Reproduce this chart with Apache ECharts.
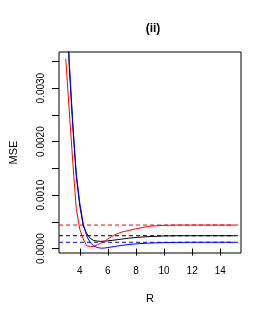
<!DOCTYPE html>
<html>
<head>
<meta charset="utf-8">
<script src="https://cdn.jsdelivr.net/npm/echarts@6/dist/echarts.min.js"></script>
<style>
html,body{margin:0;padding:0;background:#fff;}
#chart{width:269px;height:319px;}
</style>
</head>
<body>
<div id="chart"></div>
<script>
// R values (x)
const rValues = [3, 3.25, 3.5, 3.75, 4, 4.25, 4.5, 4.75, 5, 5.25, 5.5, 5.75, 6, 6.5, 7, 7.5, 8, 9, 10, 11, 12, 13, 14, 15];
// MSE curves
const redMSE   = [0.00355, 0.00257, 0.00162, 0.00075, 0.00036, 0.00018, 0.00005, 0.00004, 0.00004, 0.00007, 0.00010, 0.00013, 0.00018, 0.00026, 0.00031, 0.00034, 0.00037, 0.00042, 0.000435, 0.00044, 0.00044, 0.00044, 0.00044, 0.00044];
const blackMSE = [0.0050, 0.0034, 0.0023, 0.00135, 0.00080, 0.00042, 0.00028, 0.00019, 0.00015, 0.00014, 0.000135, 0.00014, 0.000145, 0.00016, 0.000178, 0.000195, 0.000208, 0.000226, 0.000236, 0.00024, 0.00024, 0.00024, 0.00024, 0.00024];
const blueMSE  = [0.0052, 0.0035, 0.00235, 0.0014, 0.00085, 0.00046, 0.00023, 0.00011, 0.00005, 0.00002, 0.000008, 0.00001, 0.00002, 0.00004, 0.00006, 0.000075, 0.000088, 0.000103, 0.000112, 0.000116, 0.000118, 0.000118, 0.000118, 0.000118];
// reference (dashed) levels
const redRef = 0.00044;
const blackRef = 0.00024;
const blueRef = 0.000118;
// ticks
const xTicks = [4, 6, 8, 10, 12, 14];
const yTicks = [0, 0.0005, 0.0010, 0.0015, 0.0020, 0.0025, 0.0030, 0.0035];
const yLabels = [0, 0.0010, 0.0020, 0.0030];
const titleText = '(ii)';
const xName = 'R';
const yName = 'MSE';

const X_MIN = 2.52, X_MAX = 15.48;
const Y_MIN = -0.0000825, Y_MAX = 0.003675;

const FONT = "'Liberation Sans', Arial, sans-serif";
const pair = (xs, ys) => xs.map((x, i) => [x, ys[i]]);

function curve(name, color, ys) {
  return {
    name: name, type: 'line', data: pair(rValues, ys),
    showSymbol: false, symbol: 'none',
    lineStyle: { color: color, width: 1 }, itemStyle: { color: color },
    clip: true, silent: true, animation: false
  };
}
function refLine(name, color, v) {
  return {
    name: name, type: 'line', data: [[X_MIN, v], [X_MAX, v]],
    showSymbol: false, symbol: 'none',
    lineStyle: { color: color, width: 1, type: [4, 3] }, itemStyle: { color: color },
    clip: true, silent: true, animation: false
  };
}

const chart = echarts.init(document.getElementById('chart'), null, { renderer: 'canvas' });
chart.setOption({
  animation: false,
  backgroundColor: '#fff',
  textStyle: { fontFamily: FONT },
  title: {
    text: titleText, left: 148, top: 18, textAlign: 'center',
    textStyle: { fontFamily: FONT, fontSize: 12, fontWeight: 'bold', color: '#000' }
  },
  grid: {
    left: 55, right: 28, top: 52, bottom: 66,
    show: true, borderColor: '#000', borderWidth: 1, backgroundColor: 'transparent'
  },
  xAxis: {
    type: 'value', min: X_MIN, max: X_MAX,
    name: xName, nameLocation: 'middle', nameGap: 40,
    nameTextStyle: { fontFamily: FONT, fontSize: 11, color: '#000' },
    axisLine: { show: false }, splitLine: { show: false },
    axisTick: { show: true, inside: false, length: 7, customValues: xTicks, lineStyle: { color: '#000', width: 1 } },
    axisLabel: { show: true, customValues: xTicks, margin: 13, fontFamily: FONT, fontSize: 10, color: '#000' }
  },
  yAxis: {
    type: 'value', min: Y_MIN, max: Y_MAX,
    name: yName, nameLocation: 'middle', nameGap: 40, nameRotate: 90,
    nameTextStyle: { fontFamily: FONT, fontSize: 11, color: '#000' },
    axisLine: { show: false }, splitLine: { show: false },
    axisTick: { show: true, inside: false, length: 7, customValues: yTicks, lineStyle: { color: '#000', width: 1 } },
    axisLabel: {
      show: true, customValues: yLabels, rotate: 90, margin: 13,
      fontFamily: FONT, fontSize: 10, color: '#000',
      formatter: v => Number(v).toFixed(4)
    }
  },
  series: [
    refLine('red ref', '#FF0000', redRef),
    refLine('black ref', '#000000', blackRef),
    refLine('blue ref', '#0000FF', blueRef),
    curve('black', '#000000', blackMSE),
    curve('red', '#FF0000', redMSE),
    curve('blue', '#0000FF', blueMSE)
  ]
});
</script>
</body>
</html>
